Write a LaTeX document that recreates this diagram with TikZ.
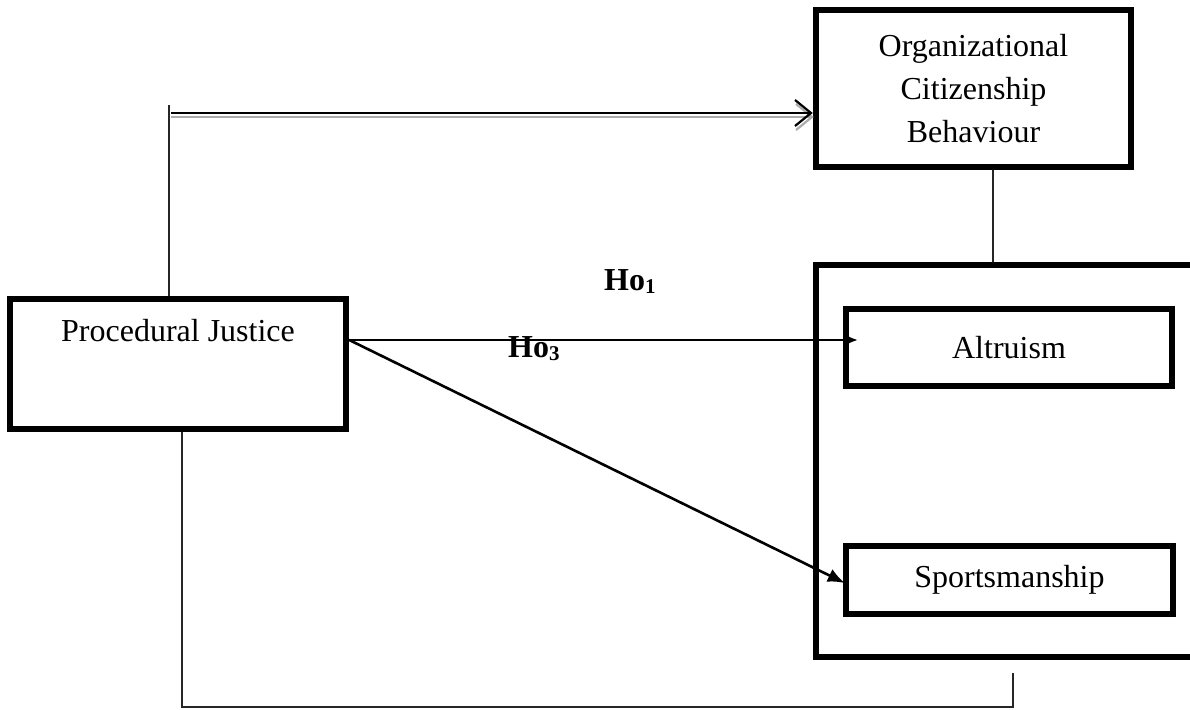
\documentclass[tikz,border=0pt]{standalone}
\usepackage{fontspec}
\setmainfont{Liberation Serif}
\usetikzlibrary{arrows.meta,calc}
\begin{document}
\begin{tikzpicture}[x=1pt,y=-1pt,
  box/.style={draw, line width=6.5pt, inner sep=0pt, align=center,
    font=\fontsize{32}{43}\selectfont},
  txt/.style={inner sep=0pt, font=\fontsize{32}{43}\selectfont},
  thinline/.style={line width=1.6pt, draw=black!85},
  arrowline/.style={line width=2.6pt},
  hlabel/.style={inner sep=0pt, font=\fontsize{32}{32}\selectfont\bfseries}]
\useasboundingbox (0,0) rectangle (1190,709);
\clip (0,0) rectangle (1190,709);

% boxes
\node[box, minimum width=336pt, minimum height=130pt] (pj) at (178,364) {};
\node[txt, anchor=base] (pjtext) at (178,341) {Procedural Justice};
\node[box, minimum width=315pt, minimum height=157pt] (ocb) at (973.5,88.5)
  {Organizational\\Citizenship\\Behaviour};
\node[box, minimum width=404pt, minimum height=392pt] (big) at (1018,461) {};
\node[box, minimum width=326pt, minimum height=77pt] (alt) at (1009,347.5) {Altruism};
\node[box, minimum width=327pt, minimum height=68pt] (sport) at (1009.5,580) {Sportsmanship};

% top connector with double arrow
\coordinate (tl) at (169,105);
\draw[thinline] (tl) -- (tl |- pj.north);
\draw[gray!65, line width=2.4pt, -{Straight Barb[length=16pt,width=26pt,line width=2.2pt]}]
  (171,117) -- ($(ocb.west |- 0,117)+(1,0)$);
\draw[black, line width=2pt, -{Straight Barb[length=16pt,width=26pt,line width=2.2pt]}]
  (171,113) -- (ocb.west |- 0,113);

% arrows to Altruism and Sportsmanship
\coordinate (pjout) at ($(pj.east)+(0,-24)$);
\draw[arrowline, -{Latex[length=13pt,width=12pt]}] (pjout) -- ($(alt.west |- pjout)+(15,0)$);
\draw[arrowline, -{Latex[length=17pt,width=14pt]}] (pjout) -- ($(sport.west)+(2,3)$);

% OCB to group box
\coordinate (c1) at ($(ocb.south)+(19.5,0)$);
\draw[thinline] (c1) -- (c1 |- big.north);

% bottom connector
\coordinate (b1) at ($(pj.south)+(4,0)$);
\coordinate (bend) at (1013,673);
\draw[thinline] (b1) -- (b1 |- 0,707) -- (bend |- 0,707) -- (bend);

% hypothesis labels
\node[hlabel, anchor=base west] (ho1) at (604,290) {Ho\raisebox{-3pt}{\fontsize{21}{21}\selectfont 1}};
\node[hlabel, anchor=base west] (ho3) at (508,357) {Ho\raisebox{-3pt}{\fontsize{21}{21}\selectfont 3}};
\end{tikzpicture}
\end{document}
